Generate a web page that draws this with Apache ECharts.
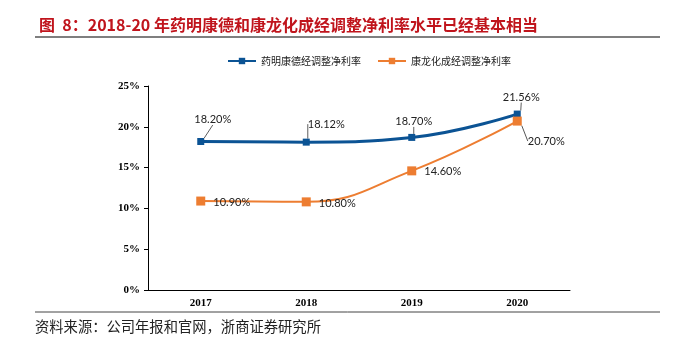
<!DOCTYPE html>
<html>
<head>
<meta charset="utf-8">
<script src="https://cdn.jsdelivr.net/npm/echarts@6/dist/echarts.min.js"></script>
<style>
  html, body { margin: 0; padding: 0; background: #fff; }
  #chart { width: 674px; height: 354px; }
</style>
</head>
<body>
<div id="chart"></div>
<script>
const years = ['2017', '2018', '2019', '2020']
const wuxiMargin = [18.20, 18.12, 18.70, 21.56]
const pharmaronMargin = [10.90, 10.80, 14.60, 20.70]
const yTicks = [0, 5, 10, 15, 20, 25]

// label offsets from each marker (px), per series
const labelShift = [
    [[12, -22], [20, -18], [2, -16], [4, -17]],
    [[31, 1], [31, 2], [31, 1], [29, 20]],
]

const chart = echarts.init(document.getElementById('chart'))

const cjk = '"Noto Sans CJK SC", sans-serif'
const pct = (p) => p.value.toFixed(2) + '%'

const option = {
    animation: false,
    title: {
        text: '图  8：2018-20 年药明康德和康龙化成经调整净利率水平已经基本相当',
        left: 34,
        top: 12,
        textStyle: { color: '#c0141c', fontSize: 16, fontWeight: 'bold', fontFamily: cjk },
    },
    graphic: [
        { type: 'line', shape: { x1: 35, y1: 37, x2: 660, y2: 37 }, style: { stroke: '#555', lineWidth: 1.5 } },
        { type: 'line', shape: { x1: 35, y1: 312, x2: 660, y2: 312 }, style: { stroke: '#444', lineWidth: 1 } },
        {
            type: 'text', left: 35, top: 319,
            style: { text: '资料来源：公司年报和官网，浙商证券研究所', fill: '#222', font: '14.3px "Noto Sans CJK SC"' },
        },
    ],
    legend: {
        top: 51,
        left: 222,
        itemWidth: 28,
        itemHeight: 8,
        itemGap: 16,
        textStyle: { fontSize: 10, color: '#222', fontFamily: cjk },
        data: ['药明康德经调整净利率', '康龙化成经调整净利率'],
    },
    grid: { left: 148, right: 104, top: 86, bottom: 64 },
    xAxis: {
        type: 'category',
        data: years,
        axisLine: { lineStyle: { color: '#000', width: 1 } },
        axisTick: { inside: true, length: 4, lineStyle: { color: '#000' } },
        axisLabel: { color: '#000', fontFamily: '"Liberation Serif", serif', fontWeight: 'bold', fontSize: 11, margin: 8 },
    },
    yAxis: {
        type: 'value',
        min: yTicks[0],
        max: yTicks[yTicks.length - 1],
        interval: 5,
        splitLine: { show: false },
        axisLine: { show: true, lineStyle: { color: '#000', width: 1 } },
        axisTick: { show: true, length: 4, lineStyle: { color: '#000' } },
        axisLabel: {
            color: '#000', fontFamily: '"Liberation Serif", serif', fontWeight: 'bold', fontSize: 11, margin: 8,
            formatter: (v) => v + '%',
        },
    },
    series: [
        {
            name: '药明康德经调整净利率',
            type: 'line',
            data: wuxiMargin,
            smooth: 0.45,
            symbol: 'rect',
            symbolSize: 7,
            itemStyle: { color: '#0b5394' },
            lineStyle: { width: 3, color: '#0b5394' },
            label: {
                show: true, position: 'inside', color: '#222', fontSize: 11, fontFamily: 'Lato, sans-serif',
                formatter: pct,
            },
            labelLine: { show: true, lineStyle: { color: '#333', width: 0.8 } },
        },
        {
            name: '康龙化成经调整净利率',
            type: 'line',
            data: pharmaronMargin.map((v, i) =>
                i === pharmaronMargin.length - 1
                    ? { value: v, labelLine: { show: true, lineStyle: { color: '#555', width: 1 } } }
                    : v
            ),
            smooth: 0.45,
            symbol: 'rect',
            symbolSize: 9,
            itemStyle: { color: '#ed7d31' },
            lineStyle: { width: 2, color: '#ed7d31' },
            label: {
                show: true, position: 'inside', color: '#222', fontSize: 11, fontFamily: 'Lato, sans-serif',
                formatter: pct,
            },
        },
    ],
    labelLayout: (params) => {
        const s = labelShift[params.seriesIndex][params.dataIndex]
        return { dx: s[0], dy: s[1] }
    },
}

chart.setOption(option)
</script>
</body>
</html>
